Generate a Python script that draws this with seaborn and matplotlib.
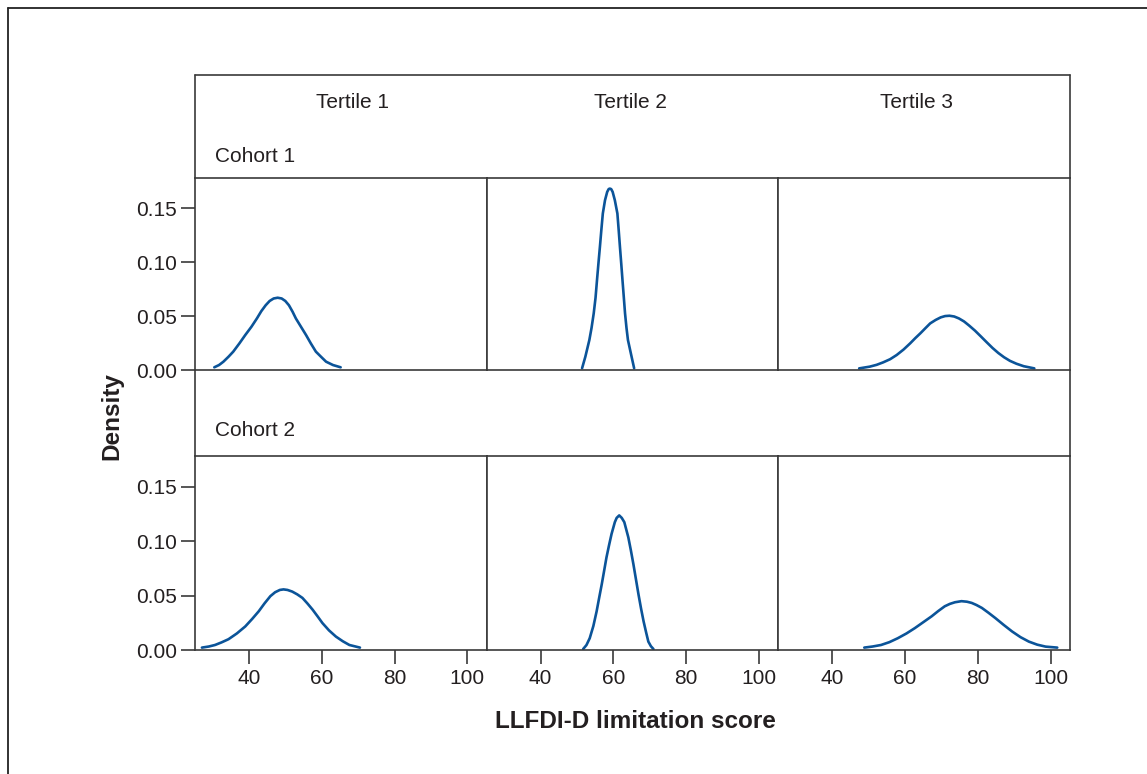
import matplotlib
matplotlib.use("agg")
import matplotlib.pyplot as plt
import pandas as pd
import seaborn as sns
from matplotlib.lines import Line2D

# density curves (score, density)
c1t1_x = [30.5, 31.8, 33.0, 34.4, 35.7, 37.4, 39.0, 40.7, 42.2, 43.4, 44.6, 45.7, 46.8, 47.9,
          49.0, 50.0, 51.0, 52.0, 52.9, 54.3, 55.7, 57.0, 58.4, 59.8, 61.2, 63.1, 65.2]
c1t1_d = [0.0025, 0.0046, 0.0077, 0.0123, 0.0170, 0.0247, 0.0324, 0.0401, 0.0478, 0.0545,
          0.0600, 0.0640, 0.0663, 0.0670, 0.0663, 0.0640, 0.0600, 0.0540, 0.0478, 0.0401,
          0.0324, 0.0247, 0.0170, 0.0123, 0.0077, 0.0046, 0.0025]

c1t2_x = [51.4, 52.3, 53.4, 54.0, 54.6, 55.1, 55.5, 55.9, 56.3, 56.7, 57.1, 57.7, 58.3, 58.7,
          59.0, 59.4, 59.8, 60.4, 61.1, 61.45, 61.8, 62.15, 62.5, 62.85, 63.2, 63.6, 64.0,
          65.0, 65.7]
c1t2_d = [0.0016, 0.0123, 0.0278, 0.0390, 0.0525, 0.0670, 0.0833, 0.0990, 0.1142, 0.1300,
          0.1451, 0.1574, 0.1651, 0.1677, 0.1682, 0.1677, 0.1651, 0.1574, 0.1451, 0.1300,
          0.1142, 0.0990, 0.0833, 0.0680, 0.0525, 0.0390, 0.0278, 0.0123, 0.0016]

c1t3_x = [47.4, 50.3, 52.2, 54.0, 55.9, 57.7, 59.6, 61.4, 62.8, 64.2, 65.6, 66.9, 68.4, 69.8,
          71.0, 72.2, 73.5, 74.8, 76.2, 77.6, 79.2, 80.8, 82.4, 84.0, 85.6, 87.2, 88.8, 90.6,
          92.6, 95.5]
c1t3_d = [0.0015, 0.0031, 0.0048, 0.0071, 0.0100, 0.0139, 0.0190, 0.0247, 0.0295, 0.0340,
          0.0388, 0.0432, 0.0464, 0.0488, 0.0500, 0.0503, 0.0496, 0.0478, 0.0450, 0.0412,
          0.0365, 0.0312, 0.0258, 0.0205, 0.0158, 0.0118, 0.0085, 0.0058, 0.0035, 0.0015]

c2t1_x = [27.1, 29.0, 30.7, 32.5, 34.4, 36.7, 39.0, 40.9, 42.7, 44.3, 45.9, 47.2, 48.5, 49.5,
          50.6, 51.9, 53.3, 54.7, 56.1, 57.5, 58.9, 60.2, 62.0, 63.9, 65.8, 67.6, 70.5]
c2t1_d = [0.0022, 0.0032, 0.0046, 0.0070, 0.0099, 0.0152, 0.0216, 0.0285, 0.0355, 0.0428,
          0.0494, 0.0530, 0.0551, 0.0556, 0.0551, 0.0536, 0.0510, 0.0478, 0.0426, 0.0370,
          0.0307, 0.0247, 0.0180, 0.0123, 0.0080, 0.0046, 0.0022]

c2t2_x = [51.7, 52.6, 53.5, 54.5, 55.4, 56.1, 56.8, 57.45, 58.1, 58.8, 59.5, 60.4, 60.9, 61.6,
          62.3, 63.0, 64.1, 64.8, 65.5, 66.2, 66.9, 67.6, 68.3, 69.0, 69.6, 70.3, 71.0]
c2t2_d = [0.0009, 0.0045, 0.0108, 0.0220, 0.0355, 0.0480, 0.0602, 0.0725, 0.0849, 0.0960,
          0.1065, 0.1173, 0.1212, 0.1235, 0.1212, 0.1173, 0.1034, 0.0915, 0.0787, 0.0648,
          0.0509, 0.0380, 0.0262, 0.0160, 0.0077, 0.0035, 0.0009]

c2t3_x = [48.8, 51.1, 53.4, 55.7, 58.0, 60.4, 62.7, 65.0, 67.3, 69.1, 70.9, 72.3, 73.7, 75.5,
          77.0, 78.3, 79.6, 81.1, 82.9, 84.8, 87.1, 89.4, 91.7, 94.0, 96.3, 98.6, 101.8]
c2t3_d = [0.0022, 0.0032, 0.0046, 0.0072, 0.0108, 0.0152, 0.0201, 0.0255, 0.0309, 0.0357,
          0.0401, 0.0423, 0.0438, 0.0448, 0.0443, 0.0432, 0.0413, 0.0386, 0.0342, 0.0293,
          0.0230, 0.0170, 0.0118, 0.0077, 0.0049, 0.0031, 0.0022]

cohorts = ["Cohort 1", "Cohort 2"]
tertiles = ["Tertile 1", "Tertile 2", "Tertile 3"]
x_ticks = [40, 60, 80, 100]
y_ticks = [0.00, 0.05, 0.10, 0.15]

curves = {
    ("Cohort 1", "Tertile 1"): (c1t1_x, c1t1_d),
    ("Cohort 1", "Tertile 2"): (c1t2_x, c1t2_d),
    ("Cohort 1", "Tertile 3"): (c1t3_x, c1t3_d),
    ("Cohort 2", "Tertile 1"): (c2t1_x, c2t1_d),
    ("Cohort 2", "Tertile 2"): (c2t2_x, c2t2_d),
    ("Cohort 2", "Tertile 3"): (c2t3_x, c2t3_d),
}
rows = []
for (coh, ter), (xs, ds) in curves.items():
    for x, d in zip(xs, ds):
        rows.append({"cohort": coh, "tertile": ter, "score": x, "density": d})
df = pd.DataFrame(rows)

sns.set_theme(style="white")
plt.rcParams["font.family"] = ["Liberation Sans", "DejaVu Sans"]

W, H = 1147, 774
line_col = "#3a3a3a"
text_col = "#231f20"
curve_col = "#0b5499"

g = sns.FacetGrid(df, row="cohort", col="tertile", row_order=cohorts, col_order=tertiles,
                  sharex=True, sharey=True, despine=False, height=2, aspect=1.5)
g.map_dataframe(sns.lineplot, x="score", y="density", color=curve_col,
                linewidth=1.9, estimator=None, sort=True)
g.set_titles("")
g.set_axis_labels("", "")
g.figure.set_size_inches(W / 100, H / 100)
g.figure.set_dpi(100)
fig = g.figure


def fx(px):
    return px / W


def fy(py):
    return 1 - py / H


left, right = 195, 1070
col_w = (right - left) / 3
row_spans = [(178, 370), (456, 650)]

for r in range(2):
    for c in range(3):
        ax = g.axes[r, c]
        top, bot = row_spans[r]
        ax.set_position([fx(left + c * col_w), fy(bot), col_w / W, (bot - top) / H])
        ax.set_xlim(25.2, 105.3)
        ax.set_ylim(0, 0.178)
        for s in ax.spines.values():
            s.set_color(line_col)
            s.set_linewidth(1.2)
        ax.tick_params(axis="both", which="both", direction="out", length=10, width=1.2,
                       color=line_col, labelsize=15, labelcolor=text_col)
        ax.tick_params(axis="y", pad=3)
        ax.tick_params(axis="x", pad=4)
        ax.set_xticks(x_ticks)
        ax.set_yticks(y_ticks)
        ax.set_yticklabels([f"{v:.2f}" for v in y_ticks])
        ax.set_xticklabels([str(v) for v in x_ticks])
        ax.tick_params(left=(c == 0), labelleft=(c == 0), bottom=(r == 1), labelbottom=(r == 1))
        ax.set_facecolor("white")
        ax.grid(False)

# header box and strip borders
for px_x in (left, right):
    fig.add_artist(Line2D([fx(px_x), fx(px_x)], [fy(75), fy(178)], color=line_col, lw=1.2))
    fig.add_artist(Line2D([fx(px_x), fx(px_x)], [fy(370), fy(456)], color=line_col, lw=1.2))
fig.add_artist(Line2D([fx(left), fx(right)], [fy(75), fy(75)], color=line_col, lw=1.2))

# outer frame
fig.add_artist(Line2D([fx(8), fx(W + 5)], [fy(8), fy(8)], color="#222222", lw=1.3))
fig.add_artist(Line2D([fx(8), fx(8)], [fy(8), fy(H + 5)], color="#222222", lw=1.3))

txt = dict(fontsize=15, color=text_col)
for label, px_x in zip(tertiles, [353, 630, 917]):
    fig.text(fx(px_x), fy(102), label, ha="center", va="center", **txt)
fig.text(fx(215), fy(156), cohorts[0], ha="left", va="center", **txt)
fig.text(fx(215), fy(431), cohorts[1], ha="left", va="center", **txt)

fig.text(fx(112), fy(416), "Density", rotation=90, ha="center", va="center",
         fontsize=17.5, fontweight="bold", color=text_col)
fig.text(fx(635), fy(722), "LLFDI-D limitation score", ha="center", va="center",
         fontsize=17.5, fontweight="bold", color=text_col)

fig.savefig("out.png", dpi=100, facecolor="white")
